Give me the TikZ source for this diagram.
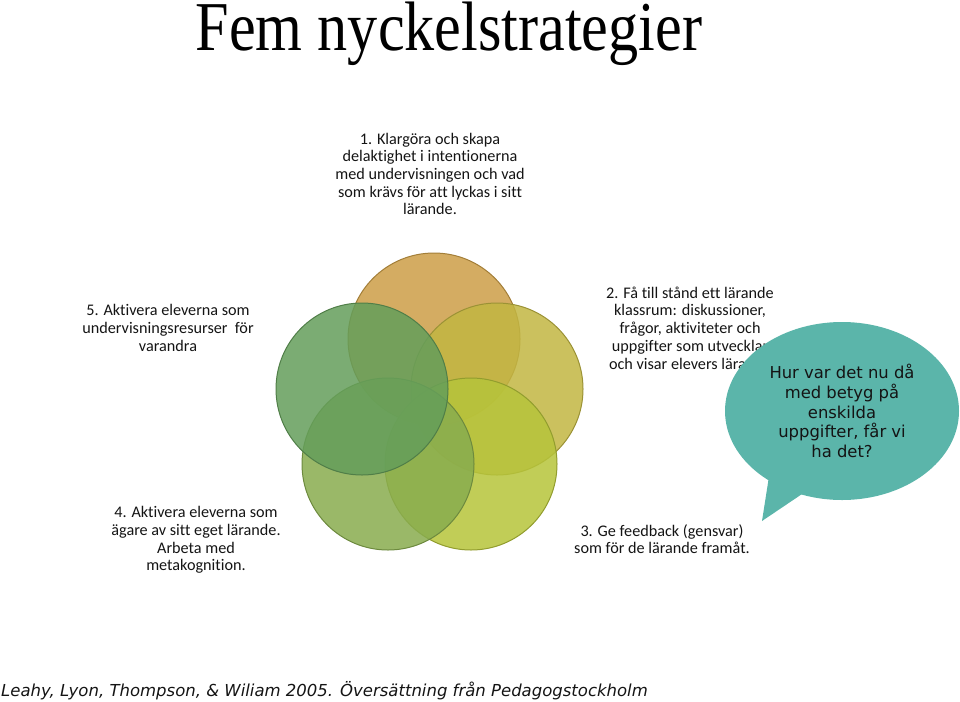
\documentclass[tikz,border=0pt]{standalone}
\usepackage{fontspec}
\setmainfont[Ligatures=NoCommon]{Carlito}
\newfontfamily\titlefont{Liberation Serif}
\newfontfamily\verd{DejaVu Sans}
\usetikzlibrary{shapes.geometric}
\definecolor{cA}{RGB}{204,158,70}
\definecolor{cB}{RGB}{194,182,66}
\definecolor{cC}{RGB}{182,196,58}
\definecolor{cD}{RGB}{136,172,78}
\definecolor{cE}{RGB}{100,158,90}
\definecolor{teal}{RGB}{91,181,170}
\definecolor{txt}{RGB}{20,20,20}
\tikzset{
  ring/.style={circle, minimum size=172pt, inner sep=0pt, fill opacity=0.85, line width=1pt},
  lbl/.style={align=center, text=txt, font={\fontsize{16.2}{17.7}\selectfont}, inner sep=0pt},
  bubble/.style={ellipse, fill=teal, minimum width=234pt, minimum height=178pt, inner sep=0pt, align=center,
     font={\verd\fontsize{16.4}{19.7}\selectfont}, text=txt}
}
\begin{document}
\begin{tikzpicture}[x=1pt,y=-1pt]
\useasboundingbox (0,0) rectangle (960,701);
\node[anchor=base, inner sep=0pt] (title) at (449,51) {\scalebox{0.86}[1]{\titlefont\fontsize{70}{70}\selectfont Fem nyckelstrategier}};

\node[ring, fill=cA, draw=cA!80!black] (c1) at (434,339) {};
\node[ring, fill=cB, draw=cB!80!black] (c2) at (497,389) {};
\node[ring, fill=cC, draw=cC!80!black] (c3) at (471,464) {};
\node[ring, fill=cD, draw=cD!80!black] (c4) at (388,464) {};
\node[ring, fill=cE, draw=cE!80!black] (c5) at (362,389) {};

\node[lbl] (t1) at (430,174) {1. Klargöra och skapa\\delaktighet i intentionerna\\med undervisningen och vad\\som krävs för att lyckas i sitt\\lärande.};
\node[lbl] (t2) at (690,328) {2. Få till stånd ett lärande\\klassrum: diskussioner,\\frågor, aktiviteter och\\uppgifter som utvecklar\\och visar elevers lärande};
\node[lbl] (t3) at (662,539) {3. Ge feedback (gensvar)\\som för de lärande framåt.};
\node[lbl] (t4) at (196,540) {4. Aktivera eleverna som\\ägare av sitt eget lärande.\\Arbeta med\\metakognition.};
\node[lbl] (t5) at (168,328) {5. Aktivera eleverna som\\undervisningsresurser\ \ för\\varandra};

\coordinate (tip) at (762,521);
\fill[teal] (770,470) -- (tip) -- (808,490) -- cycle;
\node[bubble] (q) at (842,411) {Hur var det nu då\\med betyg på\\enskilda\\uppgifter, får vi\\ha det?};

\node[anchor=base west, inner sep=0pt, text=txt] (foot) at (1,696) {\verd\itshape\fontsize{16.5}{16.5}\selectfont Leahy, Lyon, Thompson, \& Wiliam 2005. Översättning från Pedagogstockholm};
\end{tikzpicture}
\end{document}
